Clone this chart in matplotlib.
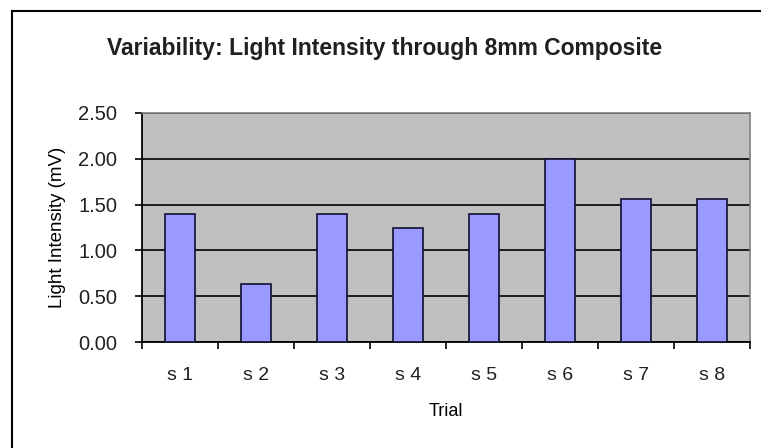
import matplotlib
matplotlib.use('Agg')
import matplotlib.pyplot as plt
import numpy as np

plt.rcParams['font.family'] = ['Liberation Sans', 'DejaVu Sans']

trials = ['s 1', 's 2', 's 3', 's 4', 's 5', 's 6', 's 7', 's 8']
intensity = [1.40, 0.63, 1.40, 1.24, 1.40, 2.00, 1.56, 1.56]
yticks = [0.0, 0.5, 1.0, 1.5, 2.0, 2.5]

W, H = 761, 448
fig = plt.figure(figsize=(W / 100, H / 100), dpi=100)
fig.patch.set_facecolor('white')

# outer chart border (only top and left visible in the crop)
fig.add_artist(plt.Line2D([12 / W, 12 / W], [0, 1 - 11 / H], color='black', lw=1.5))
fig.add_artist(plt.Line2D([12 / W, 1], [1 - 11 / H, 1 - 11 / H], color='black', lw=1.5))

# plot area in pixels: left 142, right 750, top 113, bottom 342
ax = fig.add_axes([142 / W, 1 - 342 / H, (750 - 142) / W, (342 - 113) / H])
ax.set_facecolor('#c0c0c0')

x = np.arange(len(trials))
ax.bar(x, intensity, width=0.4, color='#9999ff', edgecolor='#101030', linewidth=1.2, zorder=3)

ax.set_xlim(-0.5, len(trials) - 0.5)
ax.set_ylim(0, 2.5)
ax.set_yticks(yticks)
ax.set_yticklabels(['%.2f' % v for v in yticks], fontsize=14.5, color='#202020')
ax.yaxis.grid(True, color='black', lw=1.2, zorder=1)
ax.set_axisbelow(True)

# x ticks at category boundaries, labels centered
ax.set_xticks(np.arange(len(trials) + 1) - 0.5)
ax.set_xticklabels([])
ax.set_xticks(x, minor=True)
ax.set_xticklabels(trials, minor=True, fontsize=14, color='#202020')
ax.tick_params(axis='x', which='major', direction='out', length=5, width=1.2)
ax.tick_params(axis='x', which='minor', length=0, pad=18)
ax.tick_params(axis='y', direction='out', length=5, width=1.2, pad=13)

for side in ['top', 'right']:
    ax.spines[side].set_color('#808080')
    ax.spines[side].set_linewidth(1.2)
for side in ['left', 'bottom']:
    ax.spines[side].set_color('black')
    ax.spines[side].set_linewidth(1.3)

ax.set_ylabel('Light Intensity (mV)', fontsize=13.5, labelpad=9)
ax.set_xlabel('Trial', fontsize=13, labelpad=14)

fig.text(385 / W, 1 - 48 / H, 'Variability: Light Intensity through 8mm Composite',
         ha='center', va='center', fontsize=16.5, fontweight='bold', color='#202020')

fig.savefig('out.png', dpi=100)
